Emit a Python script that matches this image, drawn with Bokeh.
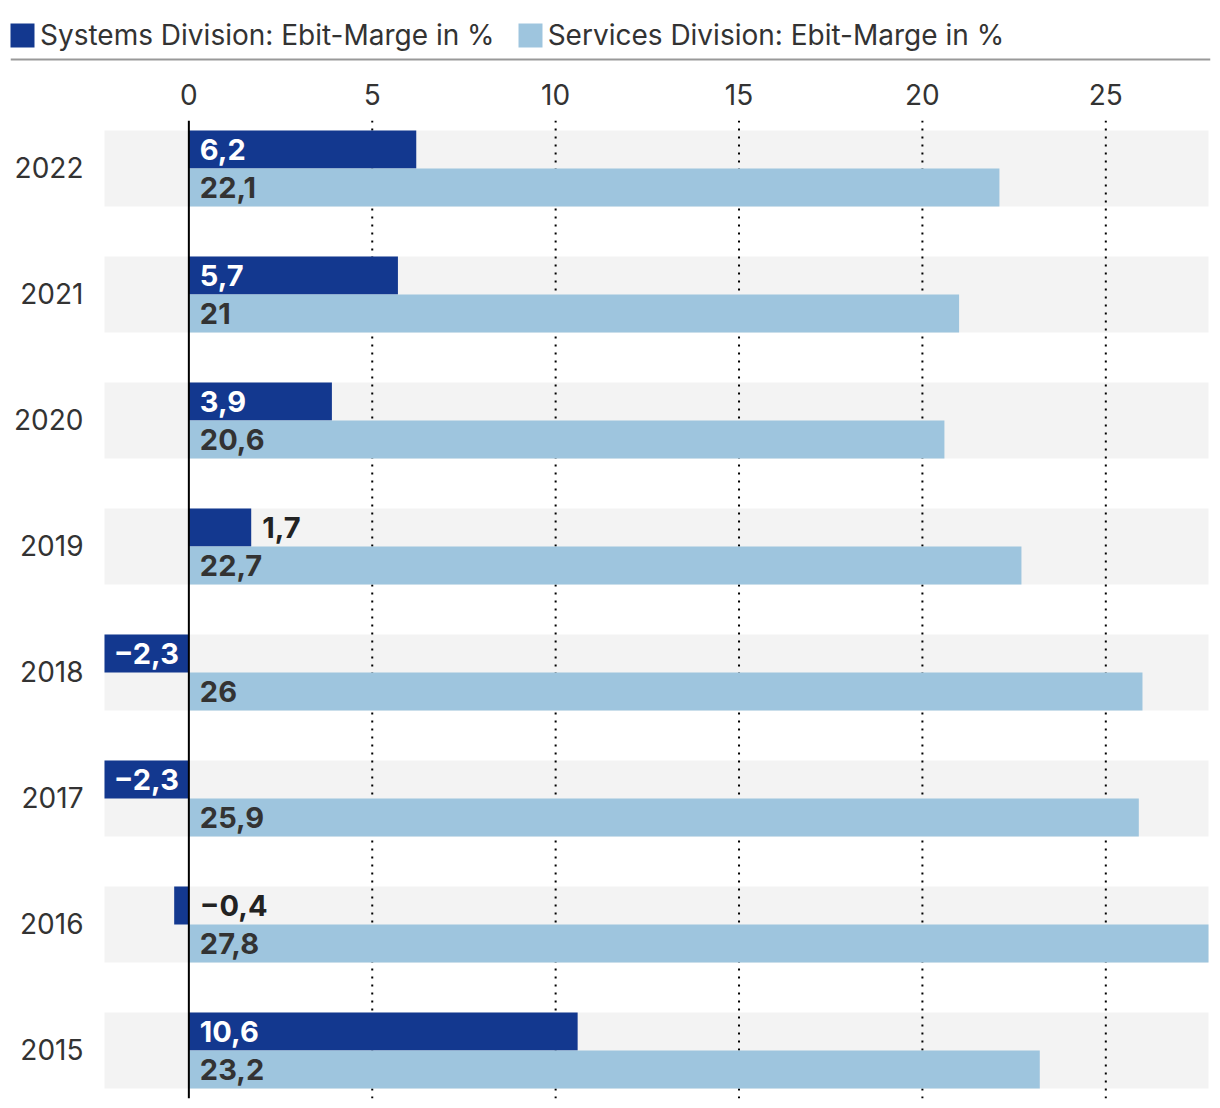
from bokeh.plotting import figure
from bokeh.models import (ColumnDataSource, Range1d, FixedTicker, LinearAxis,
                          Span, Legend, LegendItem)
from bokeh.layouts import column
from bokeh.core.properties import value
from bokeh.embed import file_html
from bokeh.resources import INLINE

# ---- data ----
years = ["2022", "2021", "2020", "2019", "2018", "2017", "2016", "2015"]
systems = [6.2, 5.7, 3.9, 1.7, -2.3, -2.3, -0.4, 10.6]
services = [22.1, 21.0, 20.6, 22.7, 26.0, 25.9, 27.8, 23.2]
x_ticks = [0, 5, 10, 15, 20, 25]
series_names = ["Systems Division: Ebit-Marge in %", "Services Division: Ebit-Marge in %"]

# ---- styles ----
C_SYS = "#13388f"
C_SRV = "#9ec5de"
C_BAND = "#f3f3f3"
C_TEXT = "#333333"
FONT = "Inter"
W = 1220
BORDER = 10          # frame inset left/right
LABEL_GUTTER = 94    # px between frame left and the start of the bars' range
RIGHT_GAP = 2        # px between end of range and frame right

def fmt(v):
    s = f"{v:.1f}"
    if s.endswith(".0"):
        s = s[:-2]
    return s.replace(".", ",").replace("-", "\u2212")

n = len(years)
ypos = [n - 1 - i for i in range(n)]
xmin = min(min(systems), min(services), 0)
xmax = max(max(systems), max(services))

frame_w = W - 2 * BORDER
px_per_unit = (frame_w - LABEL_GUTTER - RIGHT_GAP) / (xmax - xmin)
x_start = xmin - LABEL_GUTTER / px_per_unit
x_end = xmax + RIGHT_GAP / px_per_unit

pad = 0.381
y_start, y_end = -pad, n - 1 + pad

p = figure(width=W, height=1044, x_range=Range1d(x_start, x_end),
           y_range=Range1d(y_start, y_end), output_backend="svg",
           toolbar_location=None, x_axis_location=None, y_axis_location=None,
           min_border_left=BORDER, min_border_right=BORDER, min_border_top=56,
           min_border_bottom=10)
p.outline_line_color = None
p.xgrid.visible = False
p.ygrid.visible = False

band_h = 0.603
bar_h = band_h / 2

src = ColumnDataSource(dict(
    y=ypos,
    y_sys=[y + bar_h / 2 for y in ypos],
    y_srv=[y - bar_h / 2 for y in ypos],
    sys=systems, srv=services,
    left=[xmin] * n, right=[xmax] * n, zero=[0] * n,
    year=years,
))

# bands
p.hbar(y="y", left="left", right="right", height=band_h, source=src,
       fill_color=C_BAND, line_color=None)

# dotted gridlines
gt = [t for t in x_ticks if t != 0]
p.segment(x0=gt, x1=gt, y0=[y_start] * len(gt), y1=[y_end] * len(gt),
          line_color="black", line_width=2, line_dash="2 6")

# bars
p.hbar(y="y_sys", left="zero", right="sys", height=bar_h, source=src,
       fill_color=C_SYS, line_color=None)
p.hbar(y="y_srv", left="zero", right="srv", height=bar_h, source=src,
       fill_color=C_SRV, line_color=None)

# zero line
p.add_layout(Span(location=0, dimension="height", line_color="black", line_width=2))

# category (year) labels
p.text(x="left", y="y", text="year", text_align="right", x_offset=-21, y_offset=-1,
       text_baseline="middle", text_color=C_TEXT, text_font=value(FONT),
       text_font_size="28px", source=src)

# value labels - systems
lx, la, lo, lc = [], [], [], []
for v in systems:
    if v >= 3:
        lx.append(0); la.append("left"); lo.append(11); lc.append("white")
    elif v >= 0:
        lx.append(v); la.append("left"); lo.append(11); lc.append("#222222")
    elif v <= -2:
        lx.append(0); la.append("right"); lo.append(-10); lc.append("white")
    else:
        lx.append(0); la.append("left"); lo.append(11); lc.append("#222222")
lab_sys = ColumnDataSource(dict(x=lx, y=src.data["y_sys"], t=[fmt(v) for v in systems],
                                a=la, o=lo, c=lc))
p.text(x="x", y="y", text="t", text_align="a", x_offset="o", text_color="c",
       text_baseline="middle", text_font=value(FONT), text_font_style="bold",
       text_font_size="29px", source=lab_sys)
lab_srv = ColumnDataSource(dict(x=[0] * n, y=src.data["y_srv"], t=[fmt(v) for v in services]))
p.text(x="x", y="y", text="t", text_align="left", x_offset=11, text_color=C_TEXT,
       text_baseline="middle", text_font=value(FONT), text_font_style="bold",
       text_font_size="29px", source=lab_srv)

# top axis
xa = LinearAxis(ticker=FixedTicker(ticks=x_ticks))
xa.axis_line_color = None
xa.major_tick_line_color = None
xa.minor_tick_line_color = None
xa.major_tick_out = 0
xa.major_tick_in = 0
xa.major_label_standoff = 16
xa.major_label_text_font = FONT
xa.major_label_text_font_size = "28px"
xa.major_label_text_color = C_TEXT
p.add_layout(xa, "above")

# ---- legend strip ----
LH = 64
lf = figure(width=W, height=LH, x_range=Range1d(0, 1), y_range=Range1d(0, LH - 16),
            output_backend="svg", toolbar_location=None,
            x_axis_location=None, y_axis_location=None,
            min_border_left=BORDER, min_border_right=BORDER, min_border_top=16,
            min_border_bottom=0)
lf.outline_line_color = None
lf.xgrid.visible = False
lf.ygrid.visible = False
nan = float("nan")
dummy = ColumnDataSource(dict(y=[nan], l=[nan], r=[nan]))
r1 = lf.hbar(y="y", left="l", right="r", height=1, source=dummy, fill_color=C_SYS, line_color=None)
r2 = lf.hbar(y="y", left="l", right="r", height=1, source=dummy, fill_color=C_SRV, line_color=None)
lf.add_layout(Span(location=5, dimension="width", line_color="#999999", line_width=2))
leg = Legend(items=[LegendItem(label=series_names[0], renderers=[r1]),
                    LegendItem(label=series_names[1], renderers=[r2])],
             orientation="horizontal", location=(-3, 12), margin=0, padding=0,
             spacing=20, glyph_width=30, glyph_height=30, label_height=30,
             label_standoff=3, label_text_font=FONT, label_text_font_size="28px",
             label_text_color=C_TEXT, border_line_color=None, background_fill_alpha=0)
lf.add_layout(leg, "center")

layout = column(lf, p, spacing=0)
open("out.html", "w").write(file_html(layout, INLINE))
